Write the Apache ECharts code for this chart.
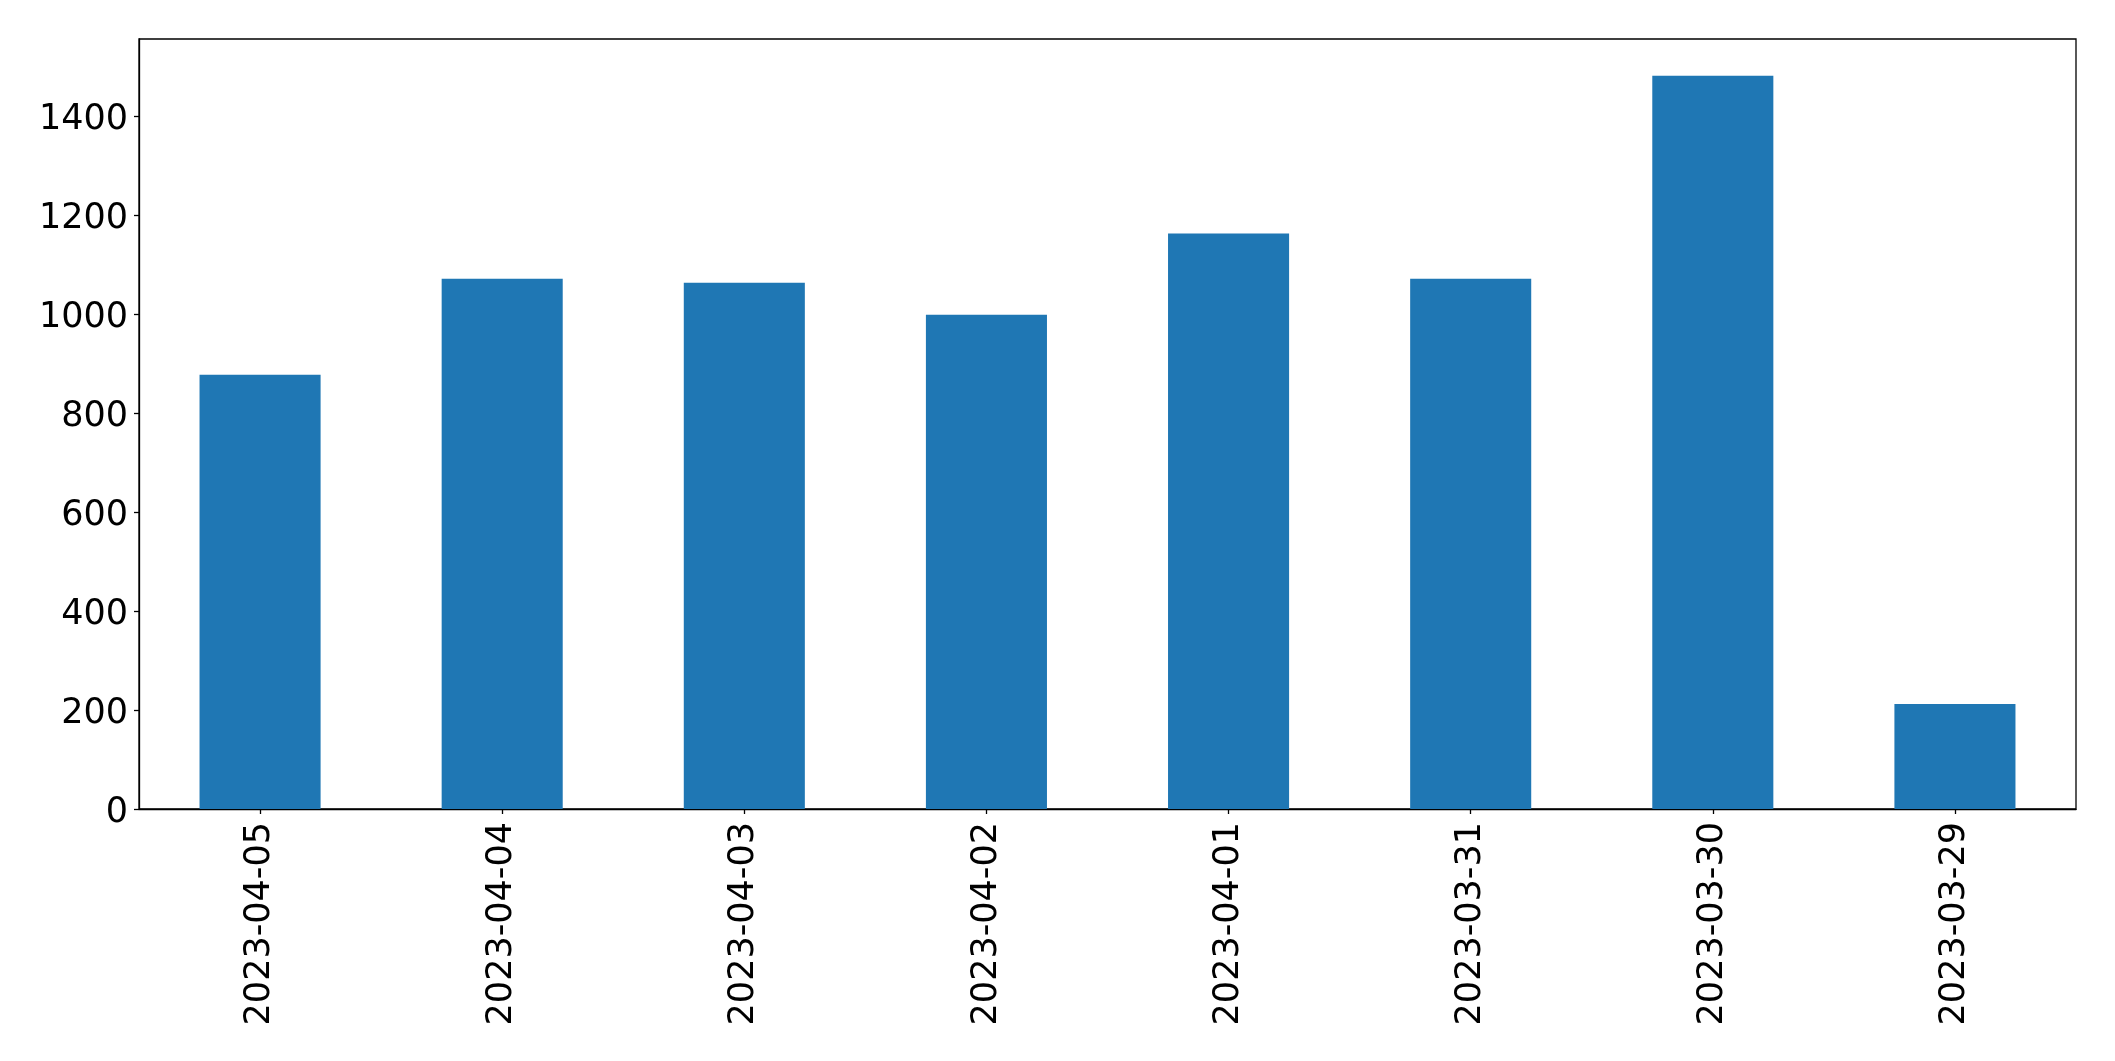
<!DOCTYPE html>
<html>
<head>
<meta charset="utf-8">
<script src="https://cdn.jsdelivr.net/npm/echarts@6/dist/echarts.min.js"></script>
<style>
html,body{margin:0;padding:0;background:#fff;}
#chart{width:2115px;height:1061px;}
</style>
</head>
<body>
<div id="chart"></div>
<script>
const categories = ["2023-04-05","2023-04-04","2023-04-03","2023-04-02","2023-04-01","2023-03-31","2023-03-30","2023-03-29"];
const values = [877, 1071, 1063, 998, 1162, 1071, 1481, 212];
const yMin = 0;
const yMax = 1555;
const yInterval = 200;

const chart = echarts.init(document.getElementById('chart'), null, {renderer: 'canvas'});
const font = "'DejaVu Sans', sans-serif";
chart.setOption({
  animation: false,
  backgroundColor: '#ffffff',
  grid: {
    left: 139, right: 39, top: 39, bottom: 252,
    show: true, borderColor: '#000', borderWidth: 1.3, backgroundColor: 'transparent'
  },
  xAxis: {
    type: 'category',
    data: categories,
    boundaryGap: true,
    axisLine: {show: true, lineStyle: {color: '#000', width: 1.3}},
    axisTick: {show: true, alignWithLabel: true, length: 5, lineStyle: {color: '#000', width: 1.3}},
    axisLabel: {
      rotate: 90, margin: 13, color: '#000', fontSize: 35, fontFamily: font, interval: 0
    },
    splitLine: {show: false}
  },
  yAxis: {
    type: 'value',
    min: yMin, max: yMax, interval: yInterval,
    axisLine: {show: true, lineStyle: {color: '#000', width: 1.3}},
    axisTick: {show: true, length: 5, lineStyle: {color: '#000', width: 1.3}},
    axisLabel: {
      margin: 11, color: '#000', fontSize: 35, fontFamily: font, showMaxLabel: false,
      formatter: function (v) { return '{a|' + v + '}'; },
      rich: {a: {fontSize: 35, fontFamily: font, color: '#000', padding: [8, 0, 0, 0]}}
    },
    splitLine: {show: false}
  },
  series: [{
    type: 'bar',
    data: values,
    barWidth: '50%',
    itemStyle: {color: '#1f77b4'}
  }]
});
</script>
</body>
</html>
